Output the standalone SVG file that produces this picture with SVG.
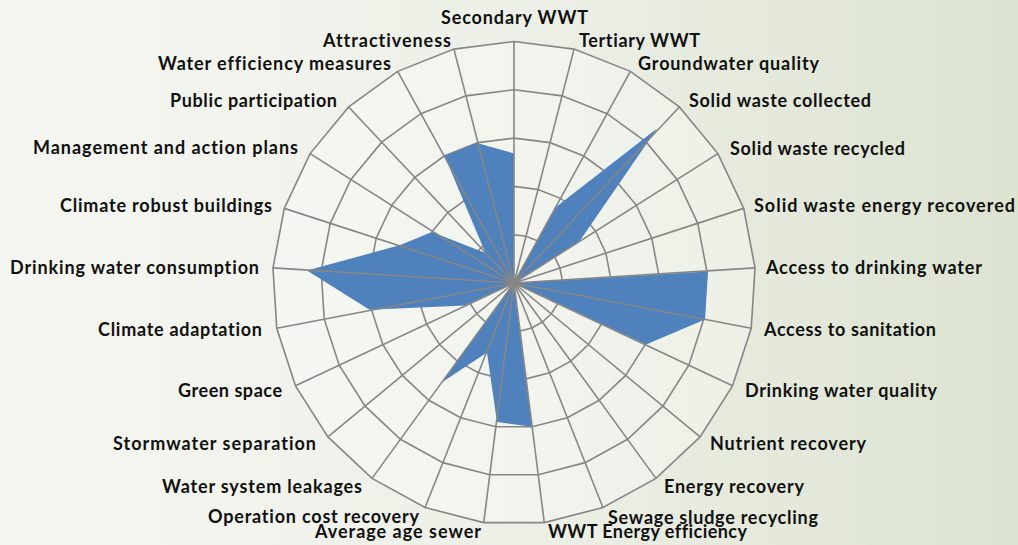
<svg xmlns="http://www.w3.org/2000/svg" xmlns:xlink="http://www.w3.org/1999/xlink" width="1018" height="545" viewBox="0 0 1018 545">
<defs>
<linearGradient id="bg" x1="0" y1="0" x2="1" y2="0">
<stop offset="0" stop-color="#f5f6f1"/>
<stop offset="0.5" stop-color="#edf0e7"/>
<stop offset="1" stop-color="#dce3d1"/>
</linearGradient>
<polygon id="ring" points="0,-100 24.869,-96.858 48.175,-87.631 68.455,-72.897 84.433,-53.583 95.106,-30.902 99.803,-6.279 98.229,18.738 90.483,42.578 77.051,63.742 58.779,80.902 36.812,92.978 12.533,99.211 -12.533,99.211 -36.812,92.978 -58.779,80.902 -77.051,63.742 -90.483,42.578 -98.229,18.738 -99.803,-6.279 -95.106,-30.902 -84.433,-53.583 -68.455,-72.897 -48.175,-87.631 -24.869,-96.858" fill="none" stroke="#868686" stroke-width="1.6" vector-effect="non-scaling-stroke"/>
<line id="spoke" x1="514" y1="283" x2="514" y2="41.5" stroke="#868686" stroke-width="1.6"/>
</defs>
<style>
.lbl{font-family:Lato,"Liberation Sans",sans-serif;font-weight:bold;font-size:18px;fill:#111111;font-variant-ligatures:none;font-feature-settings:"liga" 0,"clig" 0}
</style>
<rect x="0" y="0" width="1018" height="545" fill="url(#bg)"/>
<g id="plot-area">
<polygon points="0,-100 24.869,-96.858 48.175,-87.631 68.455,-72.897 84.433,-53.583 95.106,-30.902 99.803,-6.279 98.229,18.738 90.483,42.578 77.051,63.742 58.779,80.902 36.812,92.978 12.533,99.211 -12.533,99.211 -36.812,92.978 -58.779,80.902 -77.051,63.742 -90.483,42.578 -98.229,18.738 -99.803,-6.279 -95.106,-30.902 -84.433,-53.583 -68.455,-72.897 -48.175,-87.631 -24.869,-96.858" transform="translate(514 283) scale(2.415)" fill="#ffffff" fill-opacity="0.3"/>
</g>
<g id="rings">
<use xlink:href="#ring" href="#ring" transform="translate(514 283) scale(0.483)"/>
<use xlink:href="#ring" href="#ring" transform="translate(514 283) scale(0.966)"/>
<use xlink:href="#ring" href="#ring" transform="translate(514 283) scale(1.449)"/>
<use xlink:href="#ring" href="#ring" transform="translate(514 283) scale(1.932)"/>
<use xlink:href="#ring" href="#ring" transform="translate(514 283) scale(2.415)"/>
</g>
<g id="series">
<polygon fill="#4f81bd" points="514,153.5 514,283 556,207 657,128.5 579,242 514,283 708,271.5 705,319.5 646,344.5 514,283 514,283 514,283 532,426.8 497,422 487,352.5 441.7,382.5 514,283 465,305.4 369.5,309.8 307,270.5 399.6,245.3 432,232 485.5,253 444.6,156 477,143"/>
</g>
<g id="connectors">
<use href="#spoke" transform="rotate(0 514 283)"/>
<use href="#spoke" transform="rotate(14.4 514 283)"/>
<use href="#spoke" transform="rotate(28.8 514 283)"/>
<use href="#spoke" transform="rotate(43.2 514 283)"/>
<use href="#spoke" transform="rotate(57.6 514 283)"/>
<use href="#spoke" transform="rotate(72 514 283)"/>
<use href="#spoke" transform="rotate(86.4 514 283)"/>
<use href="#spoke" transform="rotate(100.8 514 283)"/>
<use href="#spoke" transform="rotate(115.2 514 283)"/>
<use href="#spoke" transform="rotate(129.6 514 283)"/>
<use href="#spoke" transform="rotate(144 514 283)"/>
<use href="#spoke" transform="rotate(158.4 514 283)"/>
<use href="#spoke" transform="rotate(172.8 514 283)"/>
<use href="#spoke" transform="rotate(187.2 514 283)"/>
<use href="#spoke" transform="rotate(201.6 514 283)"/>
<use href="#spoke" transform="rotate(216 514 283)"/>
<use href="#spoke" transform="rotate(230.4 514 283)"/>
<use href="#spoke" transform="rotate(244.8 514 283)"/>
<use href="#spoke" transform="rotate(259.2 514 283)"/>
<use href="#spoke" transform="rotate(273.6 514 283)"/>
<use href="#spoke" transform="rotate(288 514 283)"/>
<use href="#spoke" transform="rotate(302.4 514 283)"/>
<use href="#spoke" transform="rotate(316.8 514 283)"/>
<use href="#spoke" transform="rotate(331.2 514 283)"/>
<use href="#spoke" transform="rotate(345.6 514 283)"/>
</g>
<g id="labels">
<g id="n-secondary-wwt"><text class="lbl" x="441" y="24" textLength="147">Secondary WWT</text></g>
<g id="n-tertiary-wwt"><text class="lbl" x="579" y="47" textLength="121">Tertiary WWT</text></g>
<g id="n-groundwater-quality"><text class="lbl" x="638" y="70" textLength="181">Groundwater quality</text></g>
<g id="n-solid-waste-collected"><text class="lbl" x="689" y="107" textLength="182">Solid waste collected</text></g>
<g id="n-solid-waste-recycled"><text class="lbl" x="730" y="155" textLength="175">Solid waste recycled</text></g>
<g id="n-solid-waste-energy"><text class="lbl" x="754" y="212" textLength="261">Solid waste energy recovered</text></g>
<g id="n-access-drinking"><text class="lbl" x="766" y="274" textLength="216">Access to drinking water</text></g>
<g id="n-access-sanitation"><text class="lbl" x="764" y="336" textLength="172">Access to sanitation</text></g>
<g id="n-drinking-quality"><text class="lbl" x="745" y="397" textLength="192">Drinking water quality</text></g>
<g id="n-nutrient-recovery"><text class="lbl" x="710" y="450" textLength="156">Nutrient recovery</text></g>
<g id="n-energy-recovery"><text class="lbl" x="664" y="493" textLength="140">Energy recovery</text></g>
<g id="n-sludge-recycling"><text class="lbl" x="608" y="524" textLength="210">Sewage sludge recycling</text></g>
<g id="n-wwt-energy"><text class="lbl" x="548" y="538" textLength="199">WWT Energy efficiency</text></g>
<g id="n-average-age"><text class="lbl" x="315" y="538" textLength="166">Average age sewer</text></g>
<g id="n-operation-cost"><text class="lbl" x="208" y="523" textLength="211">Operation cost recovery</text></g>
<g id="n-water-leakages"><text class="lbl" x="162" y="493" textLength="200">Water system leakages</text></g>
<g id="n-stormwater"><text class="lbl" x="113" y="450" textLength="203">Stormwater separation</text></g>
<g id="n-green-space"><text class="lbl" x="178" y="397" textLength="104">Green space</text></g>
<g id="n-climate-adaptation"><text class="lbl" x="98" y="336" textLength="164">Climate adaptation</text></g>
<g id="n-drinking-consumption"><text class="lbl" x="10" y="274" textLength="249">Drinking water consumption</text></g>
<g id="n-climate-buildings"><text class="lbl" x="60" y="212" textLength="212">Climate robust buildings</text></g>
<g id="n-management"><text class="lbl" x="33" y="154" textLength="265">Management and action plans</text></g>
<g id="n-public-participation"><text class="lbl" x="170" y="107" textLength="167">Public participation</text></g>
<g id="n-water-efficiency"><text class="lbl" x="158" y="70" textLength="233">Water efficiency measures</text></g>
<g id="n-attractiveness"><text class="lbl" x="323" y="47" textLength="128">Attractiveness</text></g>
</g>
</svg>
